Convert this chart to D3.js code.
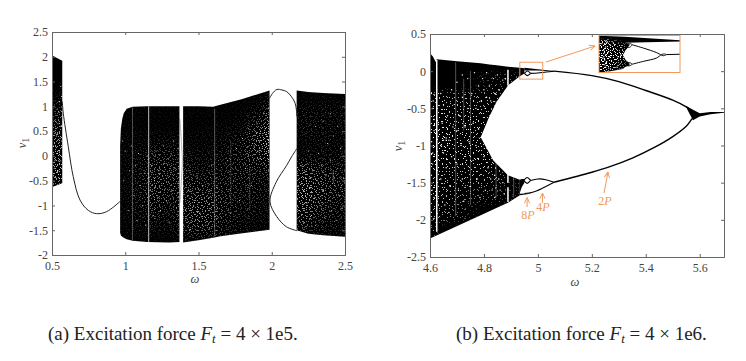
<!DOCTYPE html>
<html>
<head>
<meta charset="utf-8">
<script src="https://cdn.jsdelivr.net/npm/d3@7"></script>
<style>
  html, body { margin: 0; padding: 0; background: #fff; }
  svg { display: block; font-family: "Liberation Serif", serif; }
  .tick text { font-size: 12px; fill: #444; font-family: "Liberation Serif", serif; }
  .note { fill: #f0995c; font-size: 12px; }
  .cap { fill: #222; font-size: 19px; }
</style>
</head>
<body>
<svg width="746" height="361"></svg>
<script>
// panel (a): ticks
const xTicksA = [0.5, 1, 1.5, 2, 2.5];
const yTicksA = [-2, -1.5, -1, -0.5, 0, 0.5, 1, 1.5, 2, 2.5];

// panel (a): chaotic bands, [omega, upper, lower]
const bandA1 = [[0.5, 2.03, -0.63], [0.53, 1.98, -0.6], [0.57, 1.92, -0.55]];
const bandA2 = [[0.965, 0.2, -1.55], [0.97, 0.55, -1.6], [0.98, 0.75, -1.63], [0.99, 0.86, -1.65], [1.01, 0.95, -1.68],
  [1.05, 0.99, -1.71], [1.15, 1.0, -1.74], [1.3, 1.0, -1.75], [1.37, 1.0, -1.74]];
const bandA3 = [[1.395, 1.0, -1.75], [1.5, 1.0, -1.7], [1.6, 0.99, -1.65], [1.65, 1.03, -1.62], [1.8, 1.15, -1.56], [1.985, 1.32, -1.49]];
const bandA4 = [[2.17, 1.32, -1.5], [2.25, 1.29, -1.57], [2.35, 1.27, -1.6], [2.5, 1.25, -1.63]];

// panel (a): periodic branches, [omega, v]
const curveA1 = [[0.57, 1.1], [0.577, 0.86], [0.611, 0.19], [0.645, -0.42], [0.691, -0.89], [0.748, -1.1], [0.805, -1.166], [0.873, -1.125], [0.964, -0.92]];
const curveA2 = [[1.985, 1.16], [2.005, 1.26], [2.035, 1.34], [2.07, 1.33], [2.1, 1.3], [2.125, 1.23], [2.16, 1.06], [2.172, 0.79]];
const curveA3 = [[2.172, 0.15], [2.135, -0.02], [2.1, -0.2], [2.03, -0.53], [1.988, -0.92], [2.033, -1.22], [2.1, -1.43], [2.172, -1.51]];
const curveA4 = [[1.373, 0.75], [1.385, 0.2], [1.39, -0.1], [1.385, -0.4], [1.373, -0.95]];

// panel (a): windows, [omega, top, bottom]
const windowsA = [[1.16, 1.0, -1.74]];
const faintWindowsA = [[1.05, 0.98, -1.7], [1.61, 0.95, -1.62], [2.42, -0.3, -0.55]];
const veryFaintWindowsA = [[1.72, 0.3, -1.0], [1.85, -0.2, -1.1]];

// panel (a): how pale the bands look, cell by cell (columns by omega, rows by v)
const densityColsA = [0.5, 0.6, 0.7, 0.8, 0.9, 1.0, 1.1, 1.2, 1.3, 1.4, 1.5, 1.6, 1.7, 1.8, 1.9, 2.0, 2.1, 2.2, 2.3, 2.4, 2.5];
const densityRowsA = [1.25, 1.0, 0.75, 0.5, 0.25, 0, -0.25, -0.5, -0.75, -1, -1.25, -1.5, -1.75];
const densityA = [
  [.02, .1, 0, 0, 0, 0, 0, 0, 0, 0, 0, 0, 0, 0, .02, .08, 0, .02, .02, .02, .02],
  [.1, .25, 0, 0, 0, .02, .02, .02, .02, .02, .02, .02, .02, .03, .08, .2, 0, .08, .08, .08, .08],
  [.2, .35, 0, 0, 0, .03, .03, .02, .02, .02, .03, .03, .03, .06, .15, .35, 0, .1, .1, .1, .1],
  [.3, .4, 0, 0, 0, .04, .04, .04, .04, .03, .04, .05, .06, .1, .3, .45, 0, .1, .1, .08, .08],
  [.35, .45, 0, 0, 0, .05, .06, .08, .1, .06, .05, .06, .1, .15, .35, .45, 0, .05, .08, .08, .08],
  [.35, .45, 0, 0, 0, .06, .1, .2, .2, .1, .08, .1, .14, .2, .3, .4, 0, .08, .08, .1, .1],
  [.4, .45, 0, 0, 0, .06, .12, .25, .25, .2, .12, .14, .16, .2, .2, .25, 0, .35, .25, .2, .15],
  [.35, .4, 0, 0, 0, .06, .14, .3, .25, .22, .2, .2, .18, .18, .16, .12, 0, .4, .3, .25, .2],
  [0, 0, 0, 0, 0, .06, .14, .3, .2, .25, .28, .26, .18, .16, .14, .1, 0, .45, .35, .25, .2],
  [0, 0, 0, 0, 0, .06, .12, .25, .15, .28, .35, .3, .18, .14, .12, .08, 0, .4, .3, .2, .15],
  [0, 0, 0, 0, 0, .05, .1, .15, .1, .28, .35, .28, .16, .12, .08, .06, 0, .35, .2, .15, .12],
  [0, 0, 0, 0, 0, .04, .06, .08, .06, .2, .25, .2, .12, .08, .06, .04, 0, .2, .12, .1, .08],
  [0, 0, 0, 0, 0, .02, .02, .02, .02, .04, .04, .04, .03, .02, .02, .02, 0, .04, .03, .03, .02]
];

// panel (a): single gaps in the bands, [omega, v]
const specksA = [
  [0.51,0.2],[0.52,-0.1],[0.53,0.4],[0.54,-0.3],[0.55,0.1],[0.56,0.6],[0.51,-0.4],[0.525,0.7],[0.545,0.9],[0.56,-0.1],[0.55,-0.45],[0.535,0.05],
  [0.565,1.2],[0.565,0.9],[0.56,1.4],[0.55,1.1],[0.54,0.65],[0.52,0.45],[0.505,0.75],[0.515,-0.25],[0.53,-0.45],[0.565,0.3],[0.555,0.35],[0.545,-0.1],
  [0.98,0.3],[0.99,-0.5],[1.0,0.1],[1.02,-1.1],[1.03,-0.3],[1.04,0.2],[1.06,-0.8],[1.08,-1.3],[1.07,-0.2],[1.09,0.05],[1.1,-0.6],[1.12,-1.0],
  [1.13,-0.35],[1.14,-1.4],[1.15,0.0],[1.17,-0.7],[1.18,-0.2],[1.19,-1.2],[1.2,-0.5],[1.21,0.1],[1.22,-0.85],[1.23,-0.3],[1.24,-1.1],[1.25,-0.6],
  [1.26,0.2],[1.27,-0.15],[1.28,-0.9],[1.29,-0.4],[1.3,-1.35],[1.31,0.0],[1.32,-0.7],[1.33,0.3],[1.34,-0.25],[1.35,-1.05],[1.36,0.15],[1.365,-0.55],
  [1.41,-1.1],[1.43,-0.7],[1.45,-1.3],[1.47,-0.9],[1.49,-0.4],[1.51,-1.15],[1.53,-0.6],[1.55,-1.4],[1.57,-0.85],[1.59,-0.2],[1.42,-0.3],[1.44,-1.5],
  [1.7,-0.1],[1.72,-1.15],[1.74,-0.5],[1.76,0.15],[1.78,-0.9],[1.8,0.35],[1.82,-0.25],[1.84,0.55],[1.86,-0.6],[1.88,0.2],[1.9,0.65],[1.92,-0.05],
  [1.94,0.45],[1.96,0.75],[1.98,0.1],[1.975,0.95],[1.965,0.25],[1.955,0.55],[1.945,0.85],[1.935,0.15],[1.925,0.5],[1.915,0.3],[1.905,0.1],[1.895,0.45],
  [2.18,-0.6],[2.19,-1.1],[2.2,-0.2],[2.21,-0.8],[2.22,-1.35],[2.23,-0.45],[2.24,-0.95],[2.25,0.1],[2.26,-0.65],[2.27,-1.2],[2.28,-0.3],[2.29,-0.85],
  [2.3,-1.4],[2.31,-0.5],[2.32,0.05],[2.33,-1.0],[2.34,-0.2],[2.35,-0.7],[2.36,-1.25],[2.37,-0.4],[2.38,0.25],[2.39,-0.9],[2.4,-0.1],[2.41,-1.1],
  [2.42,0.4],[2.43,-0.6],[2.44,-1.3],[2.45,-0.25],[2.46,-0.8],[2.47,0.15],[2.48,-1.05],[2.49,-0.45],[2.3,0.6],[2.35,0.7],[2.4,0.85],[2.45,0.6]
];

// panel (b): ticks
const xTicksB = [4.6, 4.8, 5, 5.2, 5.4, 5.6];
const yTicksB = [-2.5, -2, -1.5, -1, -0.5, 0, 0.5];

// panel (b): chaotic bands, [omega, upper, lower]
const bandB1 = [[4.6, 0.24, -0.92], [4.61, 0.2, -0.92], [4.622, 0.12, -0.92], [4.625, 0.16, -0.92], [4.7, 0.135, -0.92], [4.788, 0.105, -0.89],
  [4.82, 0.09, -0.61], [4.847, 0.08, -0.41], [4.89, 0.06, -0.19], [4.933, 0.047, -0.07], [4.95, 0.04, -0.03]];
const bandB2 = [[4.6, -0.89, -2.25], [4.788, -0.89, -1.94], [4.834, -1.2, -1.86], [4.889, -1.4, -1.77], [4.933, -1.46, -1.67]];
const bandB3 = [[4.933, -1.46, -1.64], [4.94, -1.45, -1.56], [4.95, -1.45, -1.5]];
const wedgeB = [[4.95, 0.045, 0.01], [5.0, 0.025, 0.01], [5.06, 0.003, -0.003]];
const lowLobeB = [[4.933, -1.65, -1.67], [4.96, -1.645, -1.655], [4.98, -1.63, -1.635]];
const fanB = [[5.55, -0.47, -0.49], [5.575, -0.52, -0.66], [5.6, -0.565, -0.61], [5.64, -0.55, -0.58], [5.69, -0.55, -0.56]];

// panel (b): periodic branches, [omega, v]
const mainUpperB = [[5.06, 0], [5.2, -0.06], [5.3, -0.14], [5.4, -0.26], [5.5, -0.39], [5.55, -0.48], [5.575, -0.545], [5.6, -0.59]];
const mainLowerB = [[5.06, -1.495], [5.2, -1.36], [5.267, -1.285], [5.35, -1.17], [5.43, -1.03], [5.5, -0.88], [5.55, -0.74], [5.575, -0.63], [5.6, -0.59]];
const holeUpB = [[4.95, -0.03], [4.961, 0.002], [4.973, -0.03]];
const holeDownB = [[4.95, -0.03], [4.961, -0.06], [4.973, -0.03]];
const lobeUpB = [[4.973, -0.03], [5.0, -0.025], [5.03, -0.012], [5.06, 0]];
const holeLowUpB = [[4.948, -1.47], [4.96, -1.43], [4.973, -1.47]];
const holeLowDownB = [[4.948, -1.47], [4.96, -1.51], [4.973, -1.47]];
const lobeLowUpB = [[4.973, -1.47], [5.0, -1.45], [5.03, -1.46], [5.06, -1.495]];
const lobeLowDownB = [[4.95, -1.645], [4.98, -1.63], [5.02, -1.57], [5.06, -1.495]];

// panel (b): windows, [omega, top, bottom]
const windowsB = [[4.625, 0.15, -2.16], [4.889, 0.02, -0.19], [4.889, -1.3, -1.5], [4.889, -1.56, -1.76]];
const faintWindowsB = [[4.695, 0.12, -1.95], [4.75, 0.0, -1.8], [4.845, -0.4, -1.7], [4.725, -0.1, -0.8], [4.91, -1.4, -1.7]];

// panel (b): pale cells, as for panel (a)
const densityColsB = [4.6, 4.65, 4.7, 4.75, 4.8, 4.85, 4.9, 4.95];
const densityRowsB = [0.1, -0.15, -0.4, -0.65, -0.9, -1.15, -1.4, -1.65, -1.9, -2.15];
const densityB = [
  [0, 0, 0, 0, 0, 0, 0, 0],
  [0, 0, 0, .02, .1, .15, .2, .05],
  [.3, .3, .3, .3, .3, .3, .1, 0],
  [.35, .35, .3, .35, .35, 0, 0, 0],
  [.4, .45, .35, .35, .3, 0, 0, 0],
  [.4, .35, .35, .35, .35, .3, 0, 0],
  [.35, .3, .3, .3, .3, .25, .1, 0],
  [.35, .3, .25, .2, .2, .15, .1, .1],
  [.3, .25, .2, .1, 0, 0, 0, 0],
  [.2, 0, 0, 0, 0, 0, 0, 0]
];

const specksB = [
  [4.605,-0.3],[4.61,-0.5],[4.615,-0.8],[4.61,-1.1],[4.605,-1.4],[4.615,-1.7],[4.605,-1.9],[4.61,-1.25],[4.615,-0.65],[4.608,-1.6],[4.612,-0.4],[4.606,-0.95],
  [4.64,-0.3],[4.645,-0.7],[4.65,-1.1],[4.64,-1.45],[4.655,-1.8],[4.65,-0.45],[4.66,-0.9],[4.66,-1.3],[4.665,-0.6],[4.67,-0.93],[4.65,-0.93],[4.66,-0.93],
  [4.665,-0.85],[4.665,-1.0],[4.64,-1.0],[4.675,-1.55],[4.68,-0.25],[4.68,-1.15],[4.685,-0.75],[4.67,-1.9],[4.69,-0.45],[4.7,-0.15],[4.7,-0.8],[4.7,-1.25],
  [4.705,-1.6],[4.71,-0.6],[4.715,-1.0],[4.72,-0.05],[4.72,-0.35],[4.72,-1.45],[4.725,-1.75],[4.73,-0.75],[4.735,-1.2],[4.74,-0.5],[4.74,-0.1],[4.745,-0.95],
  [4.75,-1.55],[4.755,-0.3],[4.76,-0.7],[4.76,-1.2],[4.765,-0.02],[4.77,-0.5],[4.77,-1.0],[4.775,-1.45],[4.78,-0.2],[4.78,-0.78],[4.785,-1.7],[4.79,-0.4],
  [4.795,-0.1],[4.8,-0.25],[4.805,-0.5],[4.81,-0.02],[4.81,-0.35],[4.8,-1.15],[4.805,-1.6],[4.815,-1.3],[4.82,-0.2],[4.825,-0.4],[4.825,-1.45],[4.83,-1.6],
  [4.835,-0.1],[4.84,-0.3],[4.84,-1.4],[4.84,-1.7],[4.85,-0.05],[4.855,-0.25],[4.855,-1.45],[4.86,-1.6],[4.87,-0.12],[4.87,-1.5],[4.875,-1.65],[4.88,-0.1]
];

// inset of panel (b), the boxed part blown up
const boxOmega = [4.933, 5.018];
const boxV = [0.12, -0.107];
const insetUpper = [[4.933, 0.1, 0.0], [4.945, 0.1, 0.0], [4.958, 0.09, 0.001], [4.961, 0.075, 0.03], [4.965, 0.068, 0.06]];
const insetLower = [[4.933, 0.002, -0.107], [4.945, 0.002, -0.1], [4.958, 0.001, -0.085], [4.961, -0.03, -0.072], [4.965, -0.05, -0.064]];
const insetWedge = [[4.933, 0.118, 0.095], [4.96, 0.112, 0.076], [5.018, 0.091, 0.083]];
const insetHoleTop = [[4.961, 0.06], [4.965, 0.072], [4.968, 0.063]];
const insetHoleBot = [[4.961, 0.05], [4.965, 0.047], [4.968, 0.063]];
const insetHoleTop2 = [[4.961, -0.05], [4.965, -0.046], [4.968, -0.056]];
const insetHoleBot2 = [[4.961, -0.062], [4.965, -0.066], [4.968, -0.056]];
const insetBranchUp = [[4.968, 0.063], [4.98, 0.042], [4.993, 0.016], [4.998, 0.001]];
const insetBranchDown = [[4.968, -0.056], [4.98, -0.038], [4.993, -0.019], [4.998, 0.001]];
const insetRingUp = [[4.998, 0.001], [5.001, 0.007], [5.004, 0.003]];
const insetRingDown = [[4.998, 0.001], [5.001, -0.004], [5.004, 0.003]];
const insetTail = [[5.004, 0.003], [5.018, 0.005]];
const densityColsI = [4.935, 4.945, 4.955, 4.965];
const densityRowsI = [0.1, 0.05, 0, -0.05, -0.1];
const densityI = [
  [.4, .2, .05, 0],
  [.5, .6, .3, .05],
  [.5, .7, .5, 0],
  [.5, .6, .3, .05],
  [.5, .3, .1, 0]
];
const specksInset = [
  [4.936,0.07],[4.938,0.03],[4.937,-0.02],[4.939,-0.06],[4.94,0.05],[4.94,0.0],[4.941,-0.04],[4.942,0.08],[4.943,0.02],[4.943,-0.08],[4.944,-0.01],[4.945,0.06],
  [4.938,0.01],[4.938,-0.01],[4.939,0.04],[4.939,-0.03],[4.94,-0.05],[4.939,0.07],[4.94,0.085],[4.94,-0.075],[4.952,-0.075],[4.948,0.075],[4.953,-0.01],[4.956,0.0]
];

// grain used inside the pale cells of the bands, 1px marks inside a small tile
const grainDots = [
  [0,1],[3,0],[4,4],[9,2],[10,3],[14,0],[18,3],[22,1],[1,7],[6,6],[7,9],[12,6],[16,5],[17,8],[21,6],[2,11],[3,14],[9,12],[11,10],[15,11],
  [19,12],[22,10],[0,16],[5,15],[8,17],[13,15],[14,18],[18,16],[20,19],[2,20],[6,21],[10,20],[12,22],[16,21],[21,22],[4,18],[19,7],[11,14],[7,2],[15,3],
  [1,4],[20,14],[9,7],[13,9],[6,12],[17,13],[3,9],[0,22],[22,17],[8,19]
];

const svg = d3.select("svg");
const axisColor = "#666";
const noteColor = "#f0995c";
const defs = svg.append("defs");

defs.append("marker")
  .attr("id", "openArrow")
  .attr("viewBox", "0 0 8 8")
  .attr("refX", 7.5)
  .attr("refY", 4)
  .attr("markerWidth", 7)
  .attr("markerHeight", 7)
  .attr("markerUnits", "userSpaceOnUse")
  .attr("orient", "auto")
  .append("path")
  .attr("d", "M1,1L7.5,4L1,7")
  .attr("fill", "none")
  .attr("stroke", noteColor)
  .attr("stroke-width", 1.1);

// tiles with different periods, so the grain does not repeat visibly
[["grain19", 19], ["grain23", 23], ["grain31", 31], ["grain37", 37]].forEach(([id, size]) => {
  const p = defs.append("pattern")
    .attr("id", id)
    .attr("patternUnits", "userSpaceOnUse")
    .attr("width", size)
    .attr("height", size);
  p.selectAll("rect").data(grainDots).enter().append("rect")
    .attr("x", d => Math.round(d[0] * size / 23))
    .attr("y", d => Math.round(d[1] * size / 23))
    .attr("width", 1)
    .attr("height", 1)
    .attr("fill", "#fff");
});

const softBlur = defs.append("filter").attr("id", "soft")
  .attr("filterUnits", "userSpaceOnUse").attr("x", 0).attr("y", 0).attr("width", 746).attr("height", 361);
softBlur.append("feGaussianBlur").attr("stdDeviation", 0.35);

function drawAxes(xScale, yScale, xTicks, yTicks) {
  const [x0, x1] = xScale.range();
  const [y0, y1] = yScale.range();
  const g = svg.append("g");
  g.append("g").attr("transform", `translate(0,${y0})`)
    .call(d3.axisBottom(xScale).tickValues(xTicks).tickSize(-3).tickPadding(6).tickFormat(d => String(d)));
  g.append("g").attr("transform", `translate(${x0},0)`)
    .call(d3.axisLeft(yScale).tickValues(yTicks).tickSize(-3).tickPadding(4).tickFormat(d => String(d)));
  g.append("g").attr("transform", `translate(0,${y1})`)
    .call(d3.axisTop(xScale).tickValues(xTicks).tickSize(-3).tickFormat(""));
  g.append("g").attr("transform", `translate(${x1},0)`)
    .call(d3.axisRight(yScale).tickValues(yTicks).tickSize(-3).tickFormat(""));
  g.selectAll(".domain").attr("stroke", axisColor);
  g.selectAll(".tick line").attr("stroke", axisColor);
}

function bandPath(xScale, yScale, data) {
  return d3.area()
    .x(d => xScale(d[0]))
    .y0(d => yScale(d[2]))
    .y1(d => yScale(d[1]))(data);
}

function drawBand(parent, xScale, yScale, data) {
  parent.append("path").attr("d", bandPath(xScale, yScale, data)).attr("fill", "#000");
}

function drawCurve(parent, xScale, yScale, data, width, color) {
  const line = d3.line()
    .x(d => xScale(d[0]))
    .y(d => yScale(d[1]))
    .curve(d3.curveCatmullRom);
  parent.append("path").attr("d", line(data))
    .attr("fill", "none")
    .attr("stroke", color)
    .attr("stroke-width", width);
}

function drawWindows(parent, xScale, yScale, data, width, opacity) {
  parent.append("g").selectAll("line").data(data).enter().append("line")
    .attr("x1", d => xScale(d[0]))
    .attr("x2", d => xScale(d[0]))
    .attr("y1", d => yScale(d[1]))
    .attr("y2", d => yScale(d[2]))
    .attr("stroke", "#fff")
    .attr("stroke-width", width)
    .attr("stroke-opacity", opacity);
}

function drawSpecks(parent, xScale, yScale, data, radius) {
  parent.append("g").selectAll("circle").data(data).enter().append("circle")
    .attr("cx", d => xScale(d[0]))
    .attr("cy", d => yScale(d[1]))
    .attr("r", radius)
    .attr("fill", "#fff");
}

// paints the grain inside the bands, only as strong as the density table says
function drawGrain(parent, xScale, yScale, bands, cols, rows, table, id, tiles, blur, full) {
  const strength = d3.scaleLinear().domain([0, full]).range([0, 1]).clamp(true);
  const cw = Math.abs(xScale(cols[1]) - xScale(cols[0]));
  const ch = Math.abs(yScale(rows[1]) - yScale(rows[0]));

  const clip = defs.append("clipPath").attr("id", id + "Clip");
  bands.forEach(b => clip.append("path").attr("d", bandPath(xScale, yScale, b)));

  const fb = defs.append("filter").attr("id", id + "Blur")
    .attr("filterUnits", "userSpaceOnUse").attr("x", 0).attr("y", 0).attr("width", 746).attr("height", 361);
  fb.append("feGaussianBlur").attr("stdDeviation", blur);

  const mask = defs.append("mask").attr("id", id + "Mask")
    .attr("maskUnits", "userSpaceOnUse").attr("x", 0).attr("y", 0).attr("width", 746).attr("height", 361);
  const cells = mask.append("g").attr("filter", `url(#${id}Blur)`);
  table.forEach((row, r) => row.forEach((d, c) => {
    cells.append("rect")
      .attr("x", xScale(cols[c]) - cw / 2)
      .attr("y", yScale(rows[r]) - ch / 2)
      .attr("width", cw + 0.5)
      .attr("height", ch + 0.5)
      .attr("fill", "#fff")
      .attr("fill-opacity", strength(d));
  }));

  const g = parent.append("g").attr("clip-path", `url(#${id}Clip)`);
  tiles.forEach(t => {
    g.append("rect")
      .attr("width", 746).attr("height", 361)
      .attr("fill", `url(#${t})`)
      .attr("mask", `url(#${id}Mask)`);
  });
}

function axisLabels(omegaX, omegaY, vX, vY, name) {
  svg.append("text").attr("x", omegaX).attr("y", omegaY)
    .attr("text-anchor", "middle").attr("font-style", "italic").attr("font-size", 12.5).attr("fill", "#444")
    .text("ω");
  const v = svg.append("text")
    .attr("transform", `translate(${vX},${vY}) rotate(-90)`)
    .attr("text-anchor", "middle").attr("font-size", 12.5).attr("fill", "#444");
  v.append("tspan").attr("font-style", "italic").text(name);
  v.append("tspan").attr("font-size", 10).attr("dy", 3).text("1");
}

function caption(x, y, before, after) {
  const t = svg.append("text").attr("class", "cap").attr("x", x).attr("y", y);
  t.append("tspan").text(before);
  t.append("tspan").attr("font-style", "italic").text("F");
  t.append("tspan").attr("font-style", "italic").attr("font-size", 13).attr("dy", 3).text("t");
  t.append("tspan").attr("dy", -3).text(after);
}

// ---- panel (a)
const xA = d3.scaleLinear().domain([0.5, 2.5]).range([52, 345]);
const yA = d3.scaleLinear().domain([-2, 2.5]).range([255, 32]);
const panelA = svg.append("g").attr("filter", "url(#soft)");
const bandsA = [bandA1, bandA2, bandA3, bandA4];

[curveA1, curveA2, curveA3].forEach(c => drawCurve(panelA, xA, yA, c, 1, "#222"));
drawCurve(panelA, xA, yA, curveA4, 0.7, "#999");
bandsA.forEach(b => drawBand(panelA, xA, yA, b));
drawGrain(panelA, xA, yA, bandsA, densityColsA, densityRowsA, densityA, "gridA", ["grain19", "grain31"], 5, 0.6);
drawWindows(panelA, xA, yA, windowsA, 1, 0.75);
drawWindows(panelA, xA, yA, faintWindowsA, 0.8, 0.4);
drawWindows(panelA, xA, yA, veryFaintWindowsA, 0.8, 0.18);
drawSpecks(panelA, xA, yA, specksA, 0.5);
drawAxes(xA, yA, xTicksA, yTicksA);
axisLabels(195, 283, 26, 143, "v");

// ---- panel (b)
const xB = d3.scaleLinear().domain([4.6, 5.69]).range([430, 724]);
const yB = d3.scaleLinear().domain([-2.5, 0.5]).range([257, 34]);
const panelB = svg.append("g").attr("filter", "url(#soft)");
const bandsB = [bandB1, bandB2, bandB3];

[bandB1, bandB2, bandB3, wedgeB, lowLobeB, fanB].forEach(b => drawBand(panelB, xB, yB, b));
drawGrain(panelB, xB, yB, bandsB, densityColsB, densityRowsB, densityB, "gridB", ["grain31", "grain37"], 3, 0.4);
[mainUpperB, mainLowerB].forEach(c => drawCurve(panelB, xB, yB, c, 1.4, "#000"));
[holeUpB, holeDownB, lobeUpB, holeLowUpB, holeLowDownB, lobeLowUpB, lobeLowDownB].forEach(c => drawCurve(panelB, xB, yB, c, 1.1, "#000"));
drawWindows(panelB, xB, yB, windowsB, 1.5, 1);
drawWindows(panelB, xB, yB, faintWindowsB, 1, 0.3);
drawSpecks(panelB, xB, yB, specksB, 0.7);
drawAxes(xB, yB, xTicksB, yTicksB);
axisLabels(575, 286, 402, 146, "v");

// boxed region and the inset it opens into
const boxX = boxOmega.map(xB);
const boxY = boxV.map(yB);
svg.append("rect")
  .attr("x", boxX[0]).attr("y", boxY[0])
  .attr("width", boxX[1] - boxX[0]).attr("height", boxY[1] - boxY[0])
  .attr("fill", "none").attr("stroke", noteColor);

const xI = d3.scaleLinear().domain(boxOmega).range([599, 680]);
const yI = d3.scaleLinear().domain(boxV).range([35.5, 72.5]);
const inset = svg.append("g");
const insetMarks = inset.append("g").attr("filter", "url(#soft)");
inset.insert("rect", "g").attr("x", 599).attr("y", 35.5).attr("width", 81).attr("height", 37).attr("fill", "#fff");
[insetUpper, insetLower, insetWedge].forEach(b => drawBand(insetMarks, xI, yI, b));
drawGrain(insetMarks, xI, yI, [insetUpper, insetLower], densityColsI, densityRowsI, densityI, "gridI", ["grain19", "grain23"], 1.5, 0.5);
[insetHoleTop, insetHoleBot, insetHoleTop2, insetHoleBot2, insetRingUp, insetRingDown].forEach(c => drawCurve(insetMarks, xI, yI, c, 0.9, "#000"));
[insetBranchUp, insetBranchDown, insetTail].forEach(c => drawCurve(insetMarks, xI, yI, c, 1, "#000"));
drawSpecks(insetMarks, xI, yI, specksInset, 0.7);
inset.append("rect").attr("x", 599).attr("y", 35.5).attr("width", 81).attr("height", 37)
  .attr("fill", "none").attr("stroke", noteColor);

// arrows and period labels
svg.append("line").attr("x1", 546).attr("y1", 62).attr("x2", 595).attr("y2", 46)
  .attr("stroke", noteColor).attr("marker-end", "url(#openArrow)");
svg.append("line").attr("x1", xB(4.96)).attr("y1", 207).attr("x2", xB(4.96)).attr("y2", 197.5)
  .attr("stroke", noteColor).attr("marker-end", "url(#openArrow)");
svg.append("line").attr("x1", xB(5.017)).attr("y1", 203).attr("x2", xB(5.017)).attr("y2", 193)
  .attr("stroke", noteColor).attr("marker-end", "url(#openArrow)");
svg.append("line").attr("x1", 604).attr("y1", 193).attr("x2", 608).attr("y2", 172)
  .attr("stroke", noteColor).attr("marker-end", "url(#openArrow)");

function periodLabel(x, y, n) {
  const t = svg.append("text").attr("class", "note").attr("x", x).attr("y", y).attr("text-anchor", "middle");
  t.append("tspan").text(n);
  t.append("tspan").attr("font-style", "italic").text("P");
}
periodLabel(528, 219, "8");
periodLabel(543, 211, "4");
periodLabel(605, 205, "2");

// captions
caption(48, 340, "(a) Excitation force ", " = 4 × 1e5.");
caption(456, 340, "(b) Excitation force ", " = 4 × 1e6.");
</script>
</body>
</html>
